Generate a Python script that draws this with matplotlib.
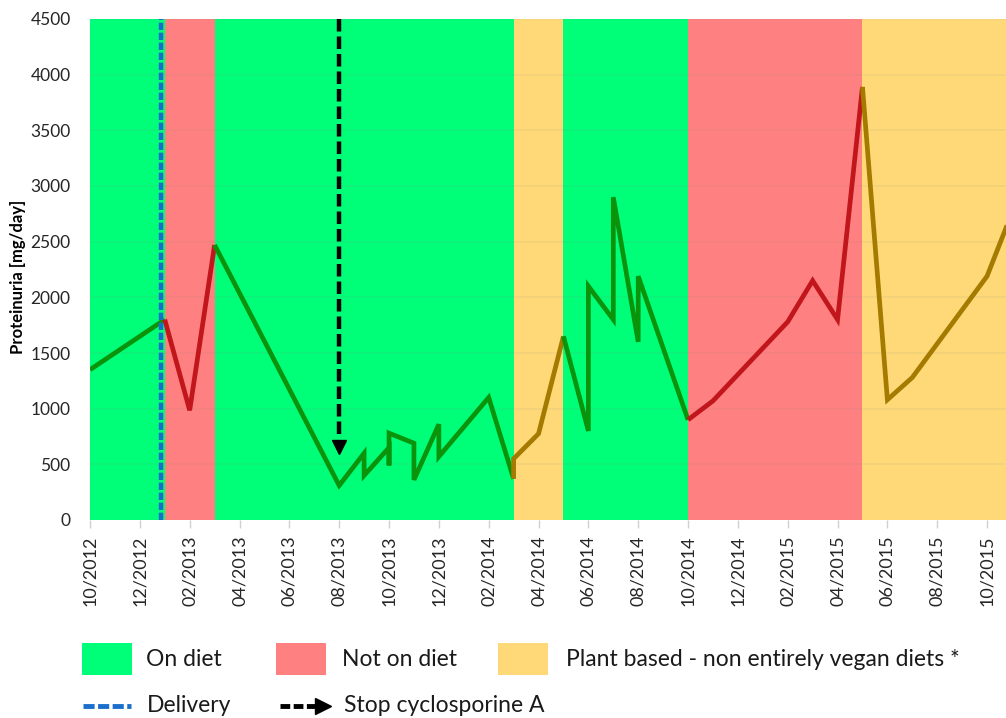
import matplotlib
matplotlib.use('Agg')
import matplotlib.pyplot as plt
from matplotlib.patches import Rectangle
from matplotlib.lines import Line2D
from matplotlib.transforms import offset_copy

plt.rcParams['font.family'] = ['Lato', 'DejaVu Sans']
plt.rcParams['lines.scale_dashes'] = False

# ---------------- data ----------------
# x = months since 10/2012
months = [0, 3, 4, 5, 10, 11, 11, 12, 12, 12, 13, 13, 14, 14, 16, 17, 17, 18, 19,
          20, 20, 21, 21, 22, 22, 24, 25, 28, 29, 30, 31, 32, 33, 36, 37]
proteinuria = [1350, 1800, 985, 2470, 310, 600, 400, 650, 490, 780, 690, 360, 860, 570,
               1100, 370, 550, 775, 1650, 800, 2100, 1800, 2900, 1600, 2190, 900, 1070,
               1780, 2150, 1800, 3890, 1080, 1280, 2190, 2760]

tick_months = list(range(0, 37, 2))
tick_labels = ['10/2012', '12/2012', '02/2013', '04/2013', '06/2013', '08/2013',
               '10/2013', '12/2013', '02/2014', '04/2014', '06/2014', '08/2014',
               '10/2014', '12/2014', '02/2015', '04/2015', '06/2015', '08/2015',
               '10/2015']
y_ticks = [0, 500, 1000, 1500, 2000, 2500, 3000, 3500, 4000, 4500]

band_starts = [0, 3, 5, 17, 19, 24, 31]
band_ends = [3, 5, 17, 19, 24, 31, 38]
band_kinds = ['on', 'off', 'on', 'plant', 'on', 'off', 'plant']

delivery_month = 2.85
stop_csa_month = 10
stop_csa_tip = 600

legend_labels = {'on': 'On diet', 'off': 'Not on diet',
                 'plant': 'Plant based - non entirely vegan diets *'}
delivery_label = 'Delivery'
stop_label = 'Stop cyclosporine A'

# ---------------- styles ----------------
band_colors = {'on': '#00FF78', 'off': '#FF8080', 'plant': '#FFD978'}
line_colors = {'on': '#0B940B', 'off': '#C0161C', 'plant': '#A47B00'}
blue = '#1A6FCC'

W, H = 1006, 718
fig = plt.figure(figsize=(W / 100, H / 100), dpi=100)


def fx(x):
    return x / W


def fy(y):
    return 1 - y / H


ax = fig.add_axes([fx(90), fy(520), (W - 90) / W, (520 - 19) / H])
ax.set_xlim(0, 36.76)
ax.set_ylim(0, 4500)

for s, e, k in zip(band_starts, band_ends, band_kinds):
    ax.axvspan(s, e, color=band_colors[k], lw=0, zorder=1)

for yv in y_ticks[1:]:
    ax.axhline(yv, color='#888888', alpha=0.10, lw=1.2, zorder=2)


def kind_at(m):
    for s, e, k in zip(band_starts, band_ends, band_kinds):
        if s <= m < e:
            return k
    return band_kinds[-1]


runs = []
cur = None
for i in range(len(months) - 1):
    k = kind_at((months[i] + months[i + 1]) / 2)
    if k != cur:
        runs.append([k, [i]])
        cur = k
    runs[-1][1].append(i + 1)
for k, idx in runs:
    ax.plot([months[j] for j in idx], [proteinuria[j] for j in idx],
            color=line_colors[k], lw=3.4, solid_joinstyle='miter',
            solid_capstyle='butt', zorder=3)

# delivery line
ax.plot([delivery_month, delivery_month], [0, 4500], color=blue, lw=3.2,
        dashes=(5.3, 1.9), zorder=4)

# stop cyclosporine arrow
tri_tr = offset_copy(ax.transData, fig=fig, x=0, y=6.5, units='dots')
ax.plot([stop_csa_month, stop_csa_month], [4500, stop_csa_tip + 150], color='black',
        lw=3.2, dashes=(9, 3.6), zorder=4)
ax.plot([stop_csa_month], [stop_csa_tip], marker='v', ms=9.5, color='black',
        transform=tri_tr, zorder=4, clip_on=False)

for sp in ax.spines.values():
    sp.set_visible(False)

ax.set_yticks(y_ticks)
ax.set_yticklabels([str(v) for v in y_ticks], fontsize=12.5, color='#262626')
ax.tick_params(axis='y', length=0, pad=14)
ax.set_xticks(tick_months)
ax.set_xticklabels(tick_labels, rotation=90, fontsize=13, color='#262626')
ax.tick_params(axis='x', length=6, color='#d0d0d0', width=1, pad=5)

fig.text(fx(18), fy(277), 'Proteinuria [mg/day]', rotation=90, fontsize=12,
         fontweight='bold', ha='center', va='center', color='black')

# ---------------- legend ----------------
row1 = 659
row2 = 706
sq = [(82, 'on', 146), (276, 'off', 342), (498, 'plant', 566)]
for x0, k, tx in sq:
    fig.add_artist(Rectangle((fx(x0), fy(675)), 50 / W, 32 / H,
                             transform=fig.transFigure, color=band_colors[k], lw=0))
    fig.text(fx(tx), fy(row1), legend_labels[k], fontsize=16.5, va='center',
             ha='left', color='#1a1a1a')

fig.add_artist(Line2D([fx(83), fx(131)], [fy(row2), fy(row2)], transform=fig.transFigure,
                      color=blue, lw=3.5, dashes=(8, 2.5)))
fig.text(fx(147), fy(row2), delivery_label, fontsize=16.5, va='center', ha='left',
         color='#1a1a1a')

fig.add_artist(Line2D([fx(280), fx(316)], [fy(row2), fy(row2)], transform=fig.transFigure,
                      color='black', lw=3.5, dashes=(7, 2.5)))
fig.add_artist(Line2D([fx(323)], [fy(row2)], transform=fig.transFigure, color='black',
                      marker='>', ms=11, lw=0))
fig.text(fx(344), fy(row2), stop_label, fontsize=16.5, va='center', ha='left',
         color='#1a1a1a')

fig.savefig('out.png', dpi=100)
